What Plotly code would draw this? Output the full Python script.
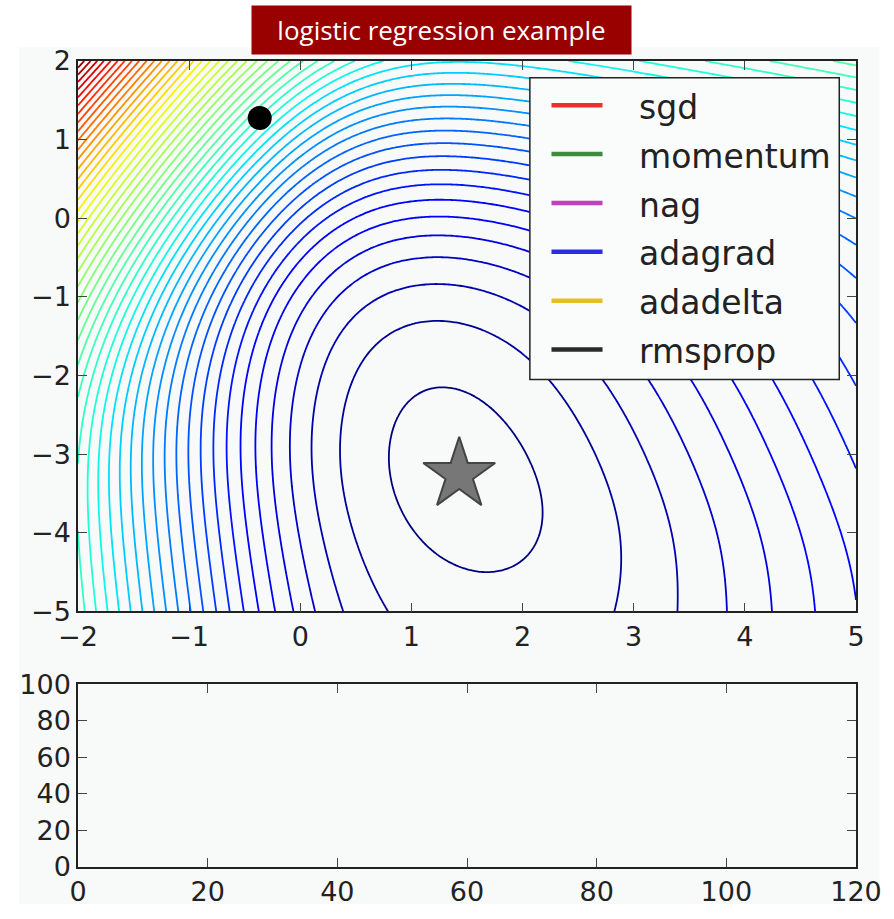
import numpy as np
import plotly.graph_objects as go

# Weighted logistic-loss terms: loss(w) = sum_j weight_j * softplus(fx_j*w1 + fy_j*w2 + offset_j)
term_weights = [4.2861, 1.4687, 5.1017, 0.3257, 1.5553, 5989.1958]
term_fx = [-2.2207, 1.9402, -0.2391, -0.6409, -2.1601, -1.8193]
term_fy = [-0.0212, 0.5608, 1.2735, -2.4171, 1.2897, 1.7170]
term_offsets = [0.0475, -2.4057, 0.7194, -7.5090, -0.7133, -14.9790]

# contour levels: base + 1, base + 2, ... base + n_levels
level_base = 0.1707
n_levels = 50

w1_range = [-2, 5]
w2_range = [-5, 2]

start_point = (-0.365, 1.275)
optimum = (1.43, -3.26)

optimizers = ["sgd", "momentum", "nag", "adagrad", "adadelta", "rmsprop"]
opt_colors = ["#e8322e", "#3c8c3c", "#c040c0", "#2c2ce6", "#e6c020", "#2a2a2a"]

loss_x_range = [0, 120]
loss_y_range = [0, 100]


def loss(W1, W2):
    total = np.zeros_like(W1, dtype=float)
    for c, ax, ay, b in zip(term_weights, term_fx, term_fy, term_offsets):
        total += c * np.logaddexp(0.0, ax * W1 + ay * W2 + b)
    return total


def jet_scale():
    stops = [0, 0.11, 0.125, 0.34, 0.35, 0.375, 0.64, 0.65, 0.66, 0.89, 0.91, 1.0]
    R = np.interp(stops, [0, 0.35, 0.66, 0.89, 1], [0, 0, 1, 1, 0.5])
    G = np.interp(stops, [0, 0.125, 0.375, 0.64, 0.91, 1], [0, 0, 1, 1, 0, 0])
    B = np.interp(stops, [0, 0.11, 0.34, 0.65, 1], [0.5, 1, 1, 0, 0])
    return [[s, "rgb(%d,%d,%d)" % (255 * r, 255 * g, 255 * b)] for s, r, g, b in zip(stops, R, G, B)]


xs = np.linspace(w1_range[0], w1_range[1], 281)
ys = np.linspace(w2_range[0], w2_range[1], 281)
XX, YY = np.meshgrid(xs, ys)
Z = loss(XX, YY)
lo, hi = level_base + 1, level_base + n_levels

fig = go.Figure()
fig.add_trace(go.Contour(x=xs, y=ys, z=Z, colorscale=jet_scale(), zauto=False, zmin=lo, zmax=hi,
                         contours=dict(coloring="lines", start=lo, end=hi, size=1),
                         line=dict(width=1.8), showscale=False, hoverinfo="skip"))

# optimizer paths (top) and loss curves (bottom) — empty at the first frame
for name, col in zip(optimizers, opt_colors):
    fig.add_trace(go.Scatter(x=[], y=[], mode="lines", name=name, line=dict(color=col, width=3),
                             showlegend=False))
    fig.add_trace(go.Scatter(x=[], y=[], mode="lines", name=name, line=dict(color=col, width=3),
                             xaxis="x2", yaxis="y2", showlegend=False))

fig.add_trace(go.Scatter(x=[optimum[0]], y=[optimum[1]], mode="markers", showlegend=False,
                         marker=dict(symbol="star", size=54, color="#777", line=dict(color="#444", width=2))))
fig.add_trace(go.Scatter(x=[start_point[0]], y=[start_point[1]], mode="markers", showlegend=False,
                         marker=dict(size=24, color="black")))

ax_common = dict(ticks="inside", ticklen=9, mirror="allticks", showline=True, linecolor="#222",
                 linewidth=1.5, showgrid=False, zeroline=False, ticklabeloverflow="allow",
                 tickfont=dict(family="DejaVu Sans", size=27, color="#222"))
fig.update_layout(width=894, height=919, margin=dict(l=78, r=24, t=61, b=38),
                  paper_bgcolor="white", plot_bgcolor="#f8fafa", showlegend=False,
                  xaxis=dict(domain=[0, 1], range=w1_range, anchor="y", dtick=1, **ax_common),
                  yaxis=dict(domain=[0.3171, 1], range=w2_range, anchor="x", dtick=1, **ax_common),
                  xaxis2=dict(domain=[0, 1], range=loss_x_range, anchor="y2", dtick=20, **ax_common),
                  yaxis2=dict(domain=[0, 0.2268], range=loss_y_range, anchor="x2", dtick=20, **ax_common))

# light canvas behind the figure
fig.add_shape(type="rect", xref="paper", yref="paper", x0=-0.0758, x1=1.0303, y0=-0.0463, y1=1.0171,
              fillcolor="#f8fafa", line_width=0, layer="below")

fig.add_annotation(text="logistic regression example", xref="paper", yref="paper", x=0.4678, y=1.039,
                   xanchor="center", yanchor="middle", showarrow=False, bgcolor="#990000",
                   width=379, height=48, borderpad=0, font=dict(family="Open Sans", size=26, color="white"))

# legend box
fig.add_shape(type="rect", xref="x domain", yref="y domain", x0=0.5808, x1=0.9785, y0=0.4214, y1=0.9696,
              fillcolor="#fafbfb", line=dict(color="#222", width=1.5), layer="above")
for i, (name, col) in enumerate(zip(optimizers, opt_colors)):
    yy = (621 - (106 + 49.7 * i)) / 560
    fig.add_shape(type="line", xref="x domain", yref="y domain", x0=0.6086, x1=0.6742, y0=yy, y1=yy,
                  line=dict(color=col, width=4.5), layer="above")
    fig.add_annotation(text=name, xref="x domain", yref="y domain", x=0.7184, y=yy - 0.004, xanchor="left",
                       yanchor="middle", showarrow=False,
                       font=dict(family="DejaVu Sans", size=33, color="#222"))

fig.write_html("out.html")
